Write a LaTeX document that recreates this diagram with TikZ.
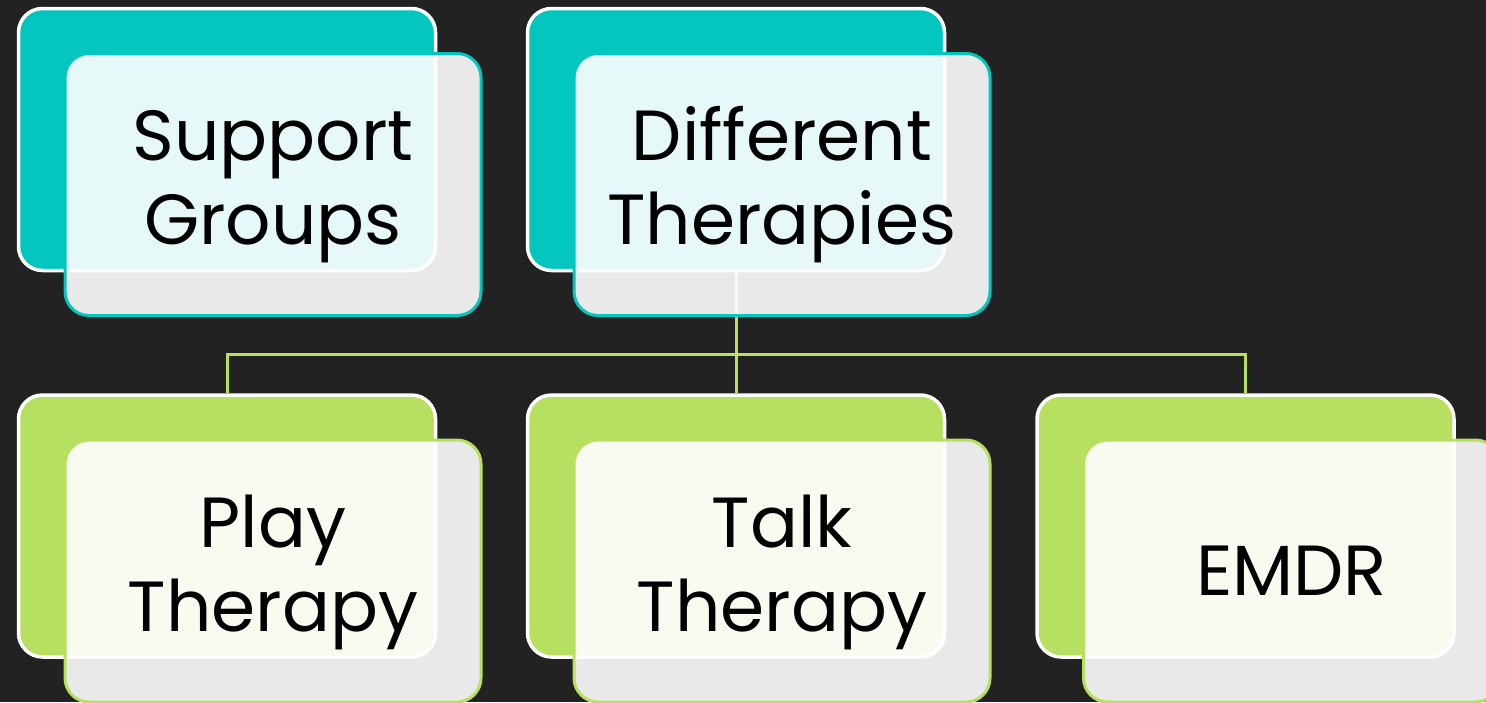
\documentclass[tikz,border=0pt]{standalone}
\usepackage{fontspec}
\setmainfont{Poppins}
\usepackage{tikz}
\usetikzlibrary{positioning, calc}
\definecolor{SlideBg}{RGB}{34, 34, 34}
\definecolor{CardTeal}{RGB}{3, 198, 190}
\definecolor{CardGreen}{RGB}{184, 224, 96}
\tikzset{
    backcard/.style={rectangle, rounded corners=24pt, draw=white, line width=3.5pt,
      fill=#1, minimum width=417pt, minimum height=262pt},
    frontcard/.style={rectangle, rounded corners=24pt, draw=#1, line width=3pt,
      fill=white, fill opacity=0.9, text opacity=1, text=black,
      minimum width=416pt, minimum height=262pt, align=center,
      font=\fontsize{71}{84}\selectfont},
    link/.style={draw=CardGreen, line width=3pt}
}

\begin{document}
\begin{tikzpicture}[x=1pt, y=-1pt]
    \useasboundingbox (0,0) rectangle (1486,702);
    \fill[SlideBg] (0,0) rectangle (1486,702);
    \clip (0,0) rectangle (1486,702);

    % back cards
    \node[backcard=CardTeal]  (support) at (227,139.5) {};
    \node[backcard=CardTeal]  (diff)    at (736,139.5) {};
    \node[backcard=CardGreen] (play)    at (227,526) {};
    \node[backcard=CardGreen] (talk)    at (736,526) {};
    \node[backcard=CardGreen] (emdr)    at (1245.5,526) {};

    % bus from Different Therapies to the three children
    \coordinate (bus) at (736,354);
    \draw[link] (diff.south) -- (bus);
    \draw[link] (bus) -| (play.north);
    \draw[link] (bus) -| (talk.north);
    \draw[link] (bus) -| (emdr.north);

    % front cards with the labels
    \node[frontcard=CardTeal]  (supportfront) at ($(support)+(46,45)$) {\rule{0pt}{55pt}Support\\Groups};
    \node[frontcard=CardTeal]  (difffront)    at ($(diff)+(46,45)$)    {\rule{0pt}{55pt}Different\\Therapies};
    \node[frontcard=CardGreen] (playfront)    at ($(play)+(46,45)$)    {\rule{0pt}{55pt}Play\\Therapy};
    \node[frontcard=CardGreen] (talkfront)    at ($(talk)+(46,45)$)    {\rule{0pt}{55pt}Talk\\Therapy};
    \node[frontcard=CardGreen] (emdrfront)    at ($(emdr)+(46,45)$)    {EMDR};
\end{tikzpicture}
\end{document}
